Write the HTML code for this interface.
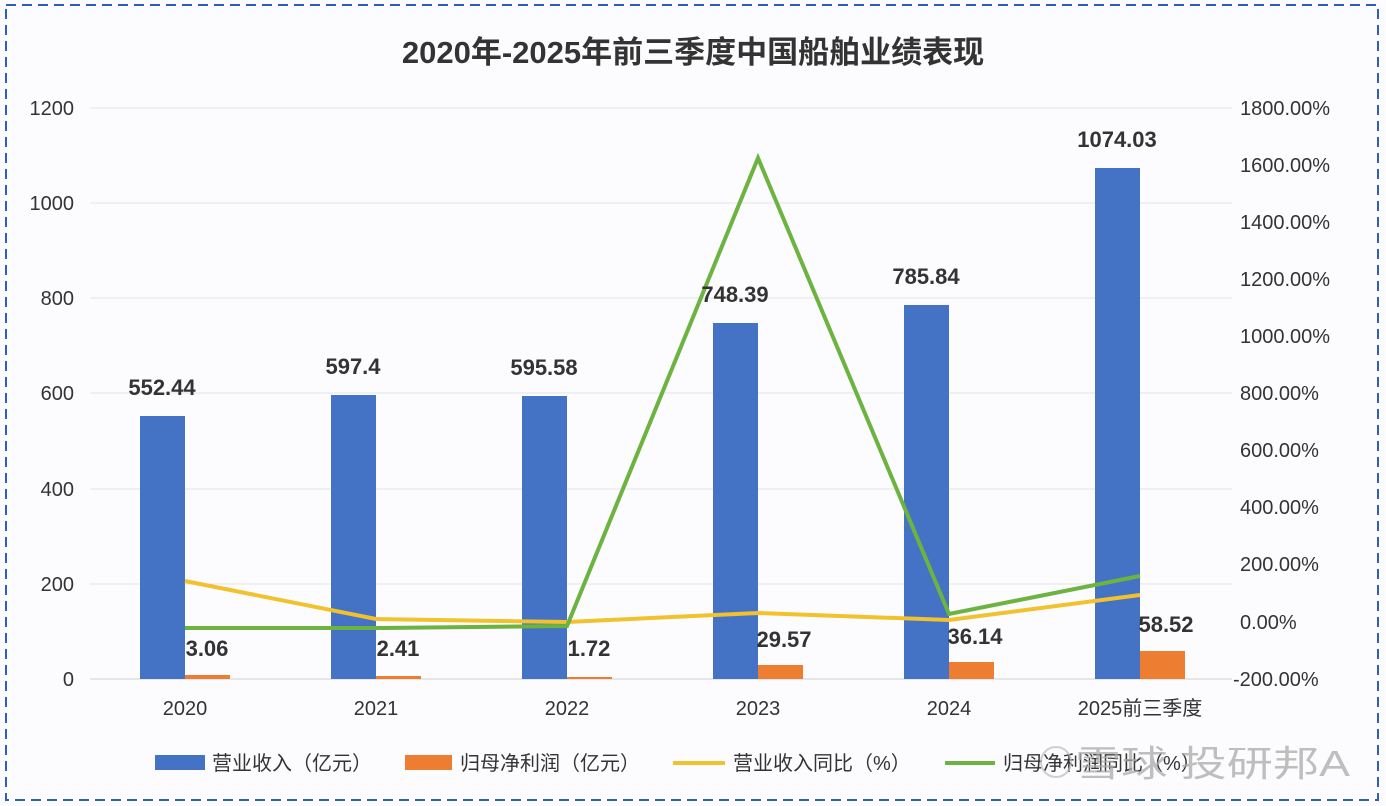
<!DOCTYPE html>
<html><head><meta charset="utf-8"><style>
html,body{margin:0;padding:0;background:#fff;}
svg{display:block;}
text{font-family:"Liberation Sans","Noto Sans CJK SC",sans-serif;}
</style></head><body>
<svg width="1386" height="806" viewBox="0 0 1386 806">
<rect x="0" y="0" width="1386" height="806" fill="#fcfcfe"/>
<rect x="6" y="5" width="1372" height="795" fill="none" stroke="#2f5fb4" stroke-width="2" stroke-dasharray="10,6"/>
<text x="693" y="63" text-anchor="middle" font-size="31" font-weight="bold" fill="#333">2020年-2025年前三季度中国船舶业绩表现</text>
<g stroke="#e4e4e8" stroke-width="1">
<line x1="90" y1="108" x2="1232" y2="108"/><line x1="90" y1="203" x2="1232" y2="203"/>
<line x1="90" y1="298" x2="1232" y2="298"/><line x1="90" y1="393" x2="1232" y2="393"/>
<line x1="90" y1="489" x2="1232" y2="489"/><line x1="90" y1="584" x2="1232" y2="584"/>
</g>
<line x1="90" y1="679" x2="1232" y2="679" stroke="#d0d0d4"/>
<g font-size="20" fill="#333" text-anchor="end">
<text x="74" y="115">1200</text><text x="74" y="210">1000</text><text x="74" y="305">800</text>
<text x="74" y="400">600</text><text x="74" y="496">400</text><text x="74" y="591">200</text><text x="74" y="686">0</text>
</g>
<g font-size="20" fill="#333" text-anchor="start">
<text x="1240" y="115">1800.00%</text><text x="1240" y="172">1600.00%</text><text x="1240" y="229">1400.00%</text>
<text x="1240" y="286">1200.00%</text><text x="1240" y="343">1000.00%</text><text x="1240" y="400">800.00%</text>
<text x="1240" y="457">600.00%</text><text x="1240" y="514">400.00%</text><text x="1240" y="571">200.00%</text>
<text x="1240" y="629">0.00%</text><text x="1233" y="686">-200.00%</text>
</g>
<g fill="#4472c4">
<rect x="140" y="416" width="45" height="263"/>
<rect x="331" y="395" width="45" height="284"/>
<rect x="522" y="396" width="45" height="283"/>
<rect x="713" y="323" width="45" height="356"/>
<rect x="904" y="305" width="45" height="374"/>
<rect x="1095" y="168" width="45" height="511"/>
</g>
<g fill="#ed7d31">
<rect x="185" y="675" width="45" height="4"/>
<rect x="376" y="676" width="45" height="3"/>
<rect x="567" y="677" width="45" height="2"/>
<rect x="758" y="665" width="45" height="14"/>
<rect x="949" y="662" width="45" height="17"/>
<rect x="1140" y="651" width="45" height="28"/>
</g>
<polyline points="185,581 376,619 567,622 758,613 949,620 1140,595" fill="none" stroke="#f2c12e" stroke-width="4"/>
<polyline points="185,628 376,628 567,626 758,158 949,614 1140,576" fill="none" stroke="#6cb33f" stroke-width="4"/>
<g font-size="22" font-weight="bold" fill="#333" text-anchor="middle">
<text x="162" y="395">552.44</text><text x="353" y="374">597.4</text><text x="544" y="375">595.58</text>
<text x="735" y="302">748.39</text><text x="926" y="284">785.84</text><text x="1117" y="147">1074.03</text>
<text x="207" y="656">3.06</text><text x="398" y="656">2.41</text><text x="589" y="656">1.72</text>
<text x="784" y="647">29.57</text><text x="975" y="644">36.14</text><text x="1166" y="632">58.52</text>
</g>
<g font-size="20" fill="#333" text-anchor="middle">
<text x="185" y="715">2020</text><text x="376" y="715">2021</text><text x="567" y="715">2022</text>
<text x="758" y="715">2023</text><text x="949" y="715">2024</text><text x="1140" y="715">2025前三季度</text>
</g>
<rect x="155" y="755" width="50" height="15" fill="#4472c4"/>
<rect x="405" y="755" width="47" height="15" fill="#ed7d31"/>
<line x1="673" y1="763" x2="725" y2="763" stroke="#f2c12e" stroke-width="4"/>
<line x1="945" y1="763" x2="995" y2="763" stroke="#6cb33f" stroke-width="4"/>
<g font-size="20" fill="#333">
<text x="212" y="770">营业收入（亿元）</text>
<text x="460" y="770">归母净利润（亿元）</text>
<text x="733" y="770">营业收入同比（%）</text>
<text x="1003" y="770">归母净利润同比（%）</text>
</g>
<circle cx="1056" cy="762" r="15" fill="none" stroke="#bbb" stroke-width="2" stroke-opacity="0.7"/>
<text x="1075" y="776" font-size="36" fill="#aaa" fill-opacity="0.75" textLength="275" lengthAdjust="spacingAndGlyphs">雪球 投研邦A</text>
</svg>
</body></html>
